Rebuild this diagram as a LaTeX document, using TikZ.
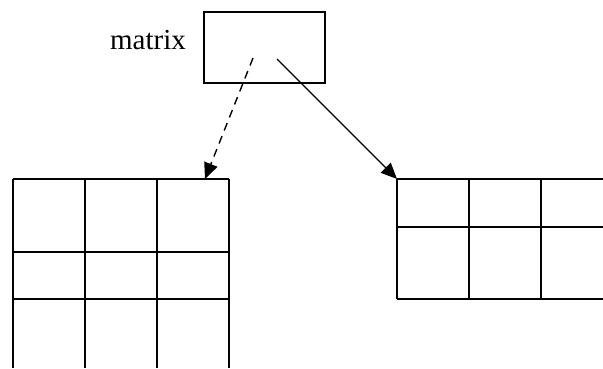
\documentclass[tikz,border=0pt]{standalone}
\usepackage{fontspec}
\setmainfont{Liberation Serif}
\usetikzlibrary{arrows.meta,positioning}

\tikzset{
  cellbox/.style={draw,line width=1.6pt,minimum width=121pt,minimum height=71pt,inner sep=0pt},
  gridline/.style={line width=1.6pt},
  ptr/.style={line width=1.4pt,-{Triangle[length=16pt,width=14pt]}},
}

\begin{document}
\begin{tikzpicture}[x=1pt,y=-1pt,font=\fontsize{29}{33}\selectfont]
\useasboundingbox (0,0) rectangle (603,369);

% the matrix variable
\node[cellbox] (mat) at (264.5,47.5) {};
\node[anchor=base east,inner sep=0pt] (matlabel) at (186,50) {matrix};
\coordinate (dstart) at (253,58);
\coordinate (sstart) at (277,59);

% left array: 3 rows, open at the bottom
\foreach \x in {13,85,157,229} {
    \draw[gridline] (\x,179) -- (\x,368);
}
\foreach \y in {179,252,299} {
    \draw[gridline] (13,\y) -- (229,\y);
}
\coordinate (lefttop) at (205,179);

% right array: 2 rows, open at the right
\foreach \x in {397,469,541} {
    \draw[gridline] (\x,179) -- (\x,299);
}
\foreach \y in {179,227,299} {
    \draw[gridline] (397,\y) -- (603,\y);
}
\coordinate (rightcorner) at (397,179);

% pointers
\draw[ptr,dash pattern=on 8pt off 6pt] (dstart) -- (lefttop);
\draw[ptr] (sstart) -- (rightcorner);
\end{tikzpicture}
\end{document}
